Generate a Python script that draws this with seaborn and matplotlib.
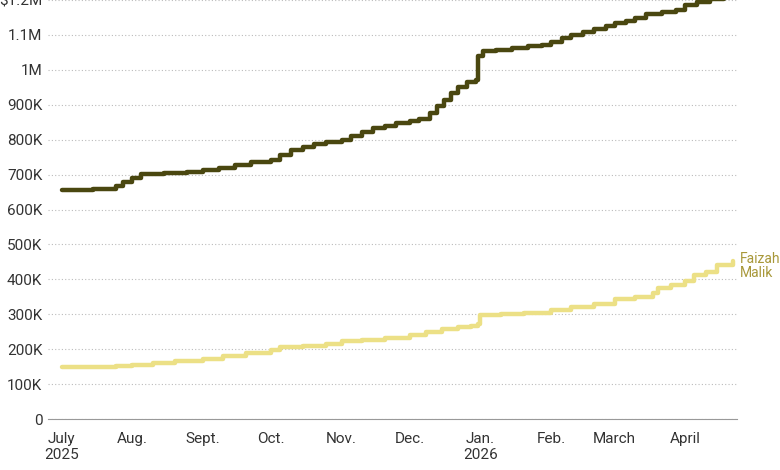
import matplotlib
matplotlib.use("Agg")
import matplotlib.pyplot as plt
import seaborn as sns
import pandas as pd

dark_dates = ["2025-07-01","2025-07-10","2025-07-15","2025-07-20","2025-07-25","2025-07-28","2025-08-01","2025-08-05",
              "2025-08-15","2025-08-25","2025-09-01","2025-09-08","2025-09-15","2025-09-22","2025-10-01","2025-10-05",
              "2025-10-10","2025-10-15","2025-10-20","2025-10-25","2025-11-01","2025-11-05","2025-11-10","2025-11-15",
              "2025-11-20","2025-11-25","2025-12-01","2025-12-05","2025-12-10","2025-12-13","2025-12-16","2025-12-19",
              "2025-12-22","2025-12-26","2025-12-30","2025-12-31","2026-01-02","2026-01-08","2026-01-15","2026-01-22",
              "2026-01-28","2026-02-01","2026-02-06","2026-02-10","2026-02-15","2026-02-20","2026-02-25","2026-03-01",
              "2026-03-06","2026-03-10","2026-03-15","2026-03-22","2026-03-28","2026-04-01","2026-04-06","2026-04-12",
              "2026-04-18","2026-04-22"]
dark_vals = [655, 655, 658, 660, 667, 678, 690, 703, 705, 708, 713, 718, 727, 735, 743, 755, 770, 780, 787, 793,
             800, 810, 822, 833, 840, 848, 853, 860, 875, 895, 915, 935, 952, 965, 970, 1040, 1055, 1058, 1063, 1068,
             1072, 1080, 1090, 1100, 1108, 1118, 1125, 1135, 1140, 1148, 1160, 1165, 1172, 1185, 1195, 1202, 1210, 1215]
light_dates = ["2025-07-01","2025-07-15","2025-07-25","2025-08-01","2025-08-10","2025-08-20","2025-09-01","2025-09-10",
               "2025-09-20","2025-10-01","2025-10-05","2025-10-15","2025-10-25","2025-11-01","2025-11-10","2025-11-20",
               "2025-12-01","2025-12-08","2025-12-15","2025-12-22","2025-12-28","2025-12-31","2026-01-01","2026-01-10",
               "2026-01-20","2026-02-01","2026-02-10","2026-02-20","2026-03-01","2026-03-10","2026-03-18","2026-03-20",
               "2026-03-26","2026-04-01","2026-04-05","2026-04-10","2026-04-15","2026-04-22"]
light_vals = [148, 149, 152, 156, 160, 167, 173, 180, 188, 197, 206, 210, 216, 222, 226, 232, 240, 248, 258, 263,
              266, 272, 297, 300, 305, 312, 320, 330, 343, 350, 360, 375, 385, 395, 412, 422, 440, 453]
label = "Faizah\nMalik"
months = ["2025-07-01","2025-08-01","2025-09-01","2025-10-01","2025-11-01","2025-12-01","2026-01-01","2026-02-01","2026-03-01","2026-04-01"]
month_labels = ["July\n2025","Aug.","Sept.","Oct.","Nov.","Dec.","Jan.\n2026","Feb.","March","April"]
yticks = [0,100,200,300,400,500,600,700,800,900,1000,1100,1200]
ylabels = ["0","100K","200K","300K","400K","500K","600K","700K","800K","900K","1M","1.1M","$1.2M"]

sns.set_style("white")
plt.rcParams['font.family'] = ['Roboto', 'DejaVu Sans']
fig = plt.figure(figsize=(7.8, 4.7), dpi=100)
ax = fig.add_axes([0.0615, 0.1085, 0.884, 0.8915])

dd = pd.DataFrame({"d": pd.to_datetime(dark_dates), "v": [v*1000 for v in dark_vals]})
ld = pd.DataFrame({"d": pd.to_datetime(light_dates), "v": [v*1000 for v in light_vals]})
sns.lineplot(data=dd, x="d", y="v", ax=ax, color="#4a4710", lw=3.2, drawstyle="steps-post")
sns.lineplot(data=ld, x="d", y="v", ax=ax, color="#ece086", lw=3.2, drawstyle="steps-post")

ax.set_xlim(pd.Timestamp("2025-06-25"), pd.Timestamp("2026-04-24"))
ax.set_ylim(0, 1200000)
ax.set_yticks([y*1000 for y in yticks])
ax.set_yticklabels(ylabels)
ax.set_xticks(pd.to_datetime(months))
ax.set_xticklabels(month_labels, multialignment="center")
for s in ["top", "right", "left"]:
    ax.spines[s].set_visible(False)
ax.spines["bottom"].set_color("#999999")
ax.grid(axis="y", color="#bbbbbb", linestyle=(0, (1, 2)), lw=0.8)
ax.set_axisbelow(True)
ax.tick_params(axis="x", length=6, color="#999999", labelsize=11, labelcolor="#333333", pad=3)
ax.tick_params(axis="y", length=0, labelsize=11, labelcolor="#333333", pad=4)
ax.set_xlabel(""); ax.set_ylabel("")
ax.text(pd.Timestamp("2026-04-25"), light_vals[-1]*1000 - 15000, label, fontsize=10, color="#a8983a",
        va="center", ha="left", clip_on=False, linespacing=1.0)
fig.savefig("out.png", dpi=100)
